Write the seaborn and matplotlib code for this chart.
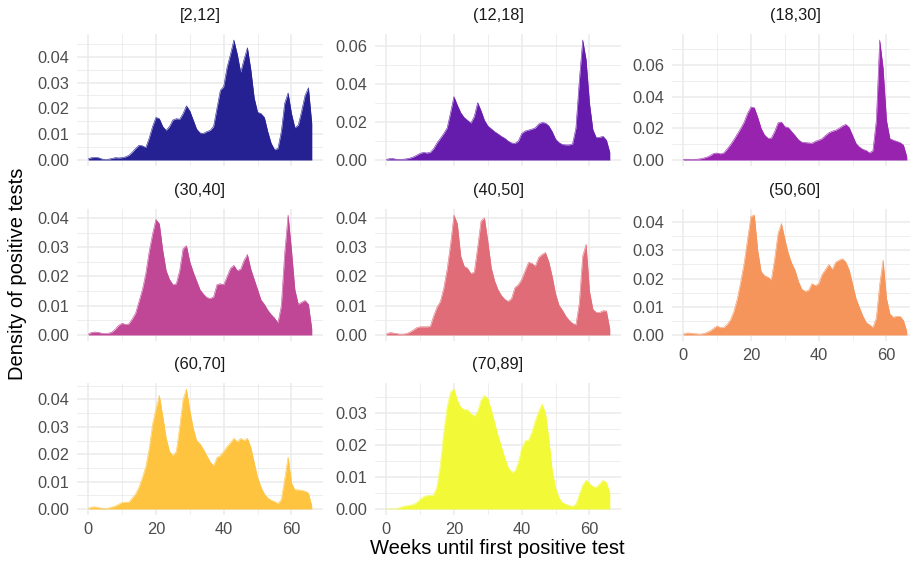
import numpy as np
import pandas as pd
import matplotlib
matplotlib.use("Agg")
import matplotlib.pyplot as plt
from matplotlib.ticker import MultipleLocator, FormatStrFormatter
from matplotlib.colors import to_rgb
import seaborn as sns

# ---------------- data ----------------
weeks = list(range(67))
groups = ["[2,12]", "(12,18]", "(18,30]", "(30,40]",
          "(40,50]", "(50,60]", "(60,70]", "(70,89]"]

d_2_12 = [0.0005, 0.0009, 0.001, 0.0009, 0.0004, 0.0002, 0.0003, 0.0006, 0.0009, 0.0008,
          0.0009, 0.0012, 0.0018, 0.003, 0.0045, 0.0057, 0.0055, 0.0048, 0.0085, 0.013,
          0.0165, 0.016, 0.013, 0.0115, 0.013, 0.0155, 0.016, 0.0158, 0.018, 0.021,
          0.019, 0.0155, 0.012, 0.0105, 0.0103, 0.011, 0.0115, 0.013, 0.02, 0.027,
          0.0285, 0.036, 0.041, 0.0465, 0.041, 0.034, 0.039, 0.0435, 0.035, 0.024,
          0.0185, 0.018, 0.0165, 0.011, 0.0065, 0.004, 0.0045, 0.011, 0.022, 0.026,
          0.018, 0.0125, 0.0135, 0.019, 0.025, 0.028, 0.014]
d_12_18 = [0.0003, 0.0007, 0.0007, 0.0004, 0.0003, 0.0004, 0.0006, 0.001, 0.0016, 0.0025,
           0.0035, 0.004, 0.0037, 0.004, 0.006, 0.009, 0.0115, 0.014, 0.017, 0.025,
           0.0335, 0.029, 0.025, 0.0225, 0.021, 0.0195, 0.023, 0.0303, 0.026, 0.021,
           0.018, 0.0165, 0.015, 0.0138, 0.0125, 0.0115, 0.01, 0.009, 0.0088, 0.01,
           0.014, 0.0153, 0.0158, 0.0163, 0.017, 0.019, 0.0198, 0.0195, 0.018, 0.015,
           0.011, 0.0092, 0.0082, 0.008, 0.008, 0.0085, 0.017, 0.042, 0.0634, 0.053,
           0.03, 0.016, 0.0118, 0.012, 0.0125, 0.0105, 0.004]
d_18_30 = [0.0004, 0.0005, 0.0004, 0.0004, 0.0005, 0.0007, 0.0012, 0.0018, 0.0028, 0.0042,
           0.0044, 0.0039, 0.0045, 0.007, 0.0098, 0.013, 0.0165, 0.02, 0.024, 0.0295,
           0.0335, 0.033, 0.027, 0.02, 0.0158, 0.0138, 0.0138, 0.018, 0.0235, 0.024,
           0.021, 0.0205, 0.018, 0.0155, 0.0128, 0.0113, 0.011, 0.0108, 0.0106, 0.0118,
           0.0125, 0.0135, 0.0155, 0.0172, 0.0182, 0.0188, 0.02, 0.0215, 0.0225, 0.0205,
           0.0155, 0.0105, 0.0082, 0.0068, 0.006, 0.0045, 0.006, 0.025, 0.0758, 0.058,
           0.025, 0.0135, 0.0125, 0.0118, 0.011, 0.0095, 0.002]
d_30_40 = [0.0003, 0.0009, 0.001, 0.0009, 0.0006, 0.0005, 0.0006, 0.001, 0.002, 0.0033,
           0.004, 0.0036, 0.0038, 0.0055, 0.0075, 0.0115, 0.0155, 0.021, 0.0285, 0.0345,
           0.0395, 0.038, 0.029, 0.022, 0.019, 0.0172, 0.0175, 0.022, 0.0295, 0.0305,
           0.025, 0.0215, 0.0185, 0.0155, 0.014, 0.0128, 0.0125, 0.013, 0.0172, 0.0175,
           0.0172, 0.02, 0.0228, 0.0238, 0.022, 0.0225, 0.0255, 0.0275, 0.0225, 0.019,
           0.0155, 0.012, 0.0105, 0.0085, 0.007, 0.0058, 0.0042, 0.01, 0.028, 0.041,
           0.029, 0.0155, 0.0105, 0.0112, 0.0118, 0.0105, 0.002]
d_40_50 = [0.0003, 0.0008, 0.0007, 0.0005, 0.0003, 0.0003, 0.0005, 0.001, 0.0017, 0.0025,
           0.0028, 0.0028, 0.0028, 0.0029, 0.0065, 0.0095, 0.0115, 0.016, 0.0225, 0.031,
           0.041, 0.038, 0.027, 0.0235, 0.0228, 0.021, 0.0215, 0.03, 0.039, 0.04,
           0.032, 0.023, 0.0185, 0.0155, 0.0135, 0.0122, 0.0115, 0.0125, 0.0162, 0.0172,
           0.019, 0.022, 0.0248, 0.0245, 0.0235, 0.0265, 0.0275, 0.0282, 0.025, 0.02,
           0.014, 0.0102, 0.0085, 0.0065, 0.005, 0.004, 0.0035, 0.011, 0.027, 0.031,
           0.015, 0.0088, 0.0077, 0.0077, 0.0083, 0.0082, 0.002]
d_50_60 = [0.0003, 0.0007, 0.0007, 0.0005, 0.0004, 0.0003, 0.0005, 0.0009, 0.0015, 0.0024,
           0.0032, 0.0026, 0.0027, 0.0038, 0.0055, 0.0085, 0.013, 0.019, 0.0255, 0.034,
           0.042, 0.0425, 0.03, 0.0225, 0.021, 0.0205, 0.0195, 0.027, 0.036, 0.0395,
           0.034, 0.029, 0.0255, 0.023, 0.019, 0.0162, 0.0155, 0.0158, 0.0182, 0.0175,
           0.0182, 0.0215, 0.0232, 0.025, 0.0232, 0.0258, 0.0265, 0.027, 0.0258, 0.023,
           0.018, 0.013, 0.0098, 0.0068, 0.0045, 0.0036, 0.0027, 0.006, 0.018, 0.0265,
           0.013, 0.0075, 0.0063, 0.0066, 0.0066, 0.0052, 0.0012]
d_60_70 = [0.0002, 0.0007, 0.0008, 0.0005, 0.0003, 0.0002, 0.0003, 0.0007, 0.0011, 0.0017,
           0.0024, 0.0025, 0.0025, 0.004, 0.0055, 0.008, 0.0115, 0.0155, 0.022, 0.031,
           0.0365, 0.0415, 0.034, 0.026, 0.021, 0.0195, 0.021, 0.03, 0.04, 0.0438,
           0.036, 0.0295, 0.025, 0.0238, 0.0218, 0.0195, 0.0172, 0.0158, 0.0188, 0.0195,
           0.021, 0.0228, 0.0242, 0.0258, 0.0245, 0.0258, 0.025, 0.0258, 0.0225, 0.017,
           0.0115, 0.008, 0.0055, 0.004, 0.0032, 0.0027, 0.002, 0.0035, 0.011, 0.019,
           0.0095, 0.007, 0.007, 0.0068, 0.0065, 0.0058, 0.001]
d_70_89 = [0.0, 0.0, 0.0, 0.0001, 0.0004, 0.0008, 0.001, 0.0012, 0.0014, 0.002,
           0.003, 0.0038, 0.0042, 0.0042, 0.0044, 0.007, 0.014, 0.024, 0.032, 0.0365,
           0.0375, 0.034, 0.0318, 0.031, 0.031, 0.0298, 0.029, 0.0305, 0.034, 0.0355,
           0.0345, 0.031, 0.027, 0.023, 0.0195, 0.016, 0.013, 0.0115, 0.0118, 0.0145,
           0.019, 0.0213, 0.0215, 0.024, 0.0275, 0.0305, 0.0328, 0.03, 0.022, 0.012,
           0.0065, 0.0035, 0.002, 0.0015, 0.0011, 0.0008, 0.0015, 0.0045, 0.0075, 0.009,
           0.008, 0.007, 0.0068, 0.0078, 0.009, 0.0082, 0.005]

series = [d_2_12, d_12_18, d_18_30, d_30_40, d_40_50, d_50_60, d_60_70, d_70_89]
colors = ["#0D0887", "#5402A3", "#8B0AA5", "#B93289",
          "#DB5C68", "#F48849", "#FEBC2A", "#F0F921"]
y_steps = [0.01, 0.02, 0.02, 0.01, 0.01, 0.01, 0.01, 0.01]
x_ticks = [0, 20, 40, 60]

df = pd.DataFrame({
    "week": weeks * len(groups),
    "density": sum(series, []),
    "group": np.repeat(groups, len(weeks)),
})

# ---------------- styling ----------------
sns.set_theme(style="whitegrid")
plt.rcParams["font.family"] = ["Liberation Sans", "DejaVu Sans"]

W, H = 910, 563
fig = plt.figure(figsize=(W / 100, H / 100), dpi=100)
col_left = [77, 375, 672]
row_top = [34, 209, 383]
pw, ph = 246, 132
tick_color = "#4D4D4D"
grid_color = "#EBEBEB"


def blend(c, a=0.9):
    r, g, b = to_rgb(c)
    return (a * r + 1 - a, a * g + 1 - a, a * b + 1 - a)


for i, g in enumerate(groups):
    r, c = divmod(i, 3)
    ax = fig.add_axes([col_left[c] / W, 1 - (row_top[r] + ph) / H, pw / W, ph / H])
    sub = df[df["group"] == g]
    fc = blend(colors[i])
    ax.fill_between(sub["week"], 0, sub["density"], color=fc, lw=0)
    sns.lineplot(data=sub, x="week", y="density", ax=ax, color=fc, lw=0.4)
    ymax = sub["density"].max()
    ax.set_xlim(-3.3, 69.3)
    ax.set_ylim(-0.05 * ymax, 1.05 * ymax)
    ax.xaxis.set_major_locator(plt.FixedLocator(x_ticks))
    ax.xaxis.set_minor_locator(MultipleLocator(10))
    ax.yaxis.set_major_locator(MultipleLocator(y_steps[i]))
    ax.yaxis.set_minor_locator(MultipleLocator(y_steps[i] / 2))
    ax.yaxis.set_major_formatter(FormatStrFormatter("%.2f"))
    ax.set_facecolor("white")
    ax.grid(which="major", color=grid_color, lw=1.1)
    ax.grid(which="minor", color=grid_color, lw=0.6)
    ax.set_axisbelow(True)
    for s in ax.spines.values():
        s.set_visible(False)
    ax.tick_params(axis="both", which="both", length=0, labelsize=11.8,
                   labelcolor=tick_color)
    ax.tick_params(axis="y", pad=5.5)
    ax.tick_params(axis="x", pad=5)
    if i not in (5, 6, 7):
        ax.set_xticklabels([])
    ax.set_xlabel("")
    ax.set_ylabel("")
    ax.set_title(g, fontsize=11.8, color="#1A1A1A", pad=10)

fig.text(497 / W, 1 - 554 / H, "Weeks until first positive test",
         ha="center", va="baseline", fontsize=14.5, color="black")
fig.text(18 / W, 1 - 274 / H, "Density of positive tests",
         ha="center", va="center", rotation=90, fontsize=14.5, color="black")

fig.savefig("out.png", dpi=100)
